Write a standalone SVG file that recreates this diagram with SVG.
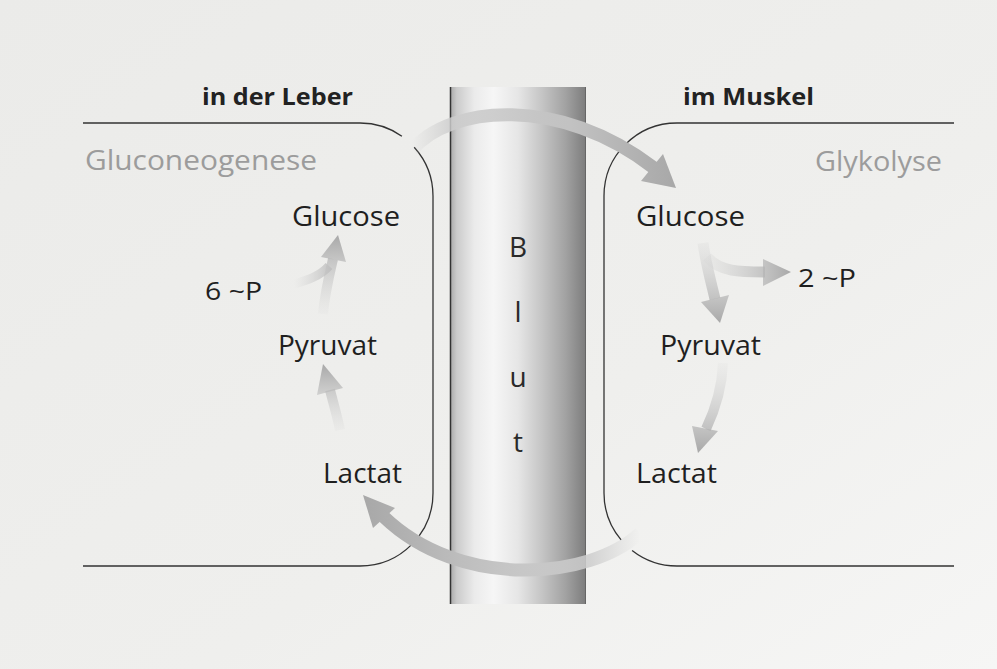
<svg xmlns="http://www.w3.org/2000/svg" width="997" height="669" viewBox="0 0 997 669">
  <defs>
    <linearGradient id="paper" x1="0" y1="0" x2="1" y2="1">
      <stop offset="0" stop-color="#ebebe9"/>
      <stop offset="0.6" stop-color="#efefed"/>
      <stop offset="1" stop-color="#f6f6f5"/>
    </linearGradient>
    <linearGradient id="vessel" gradientUnits="userSpaceOnUse" x1="450" y1="0" x2="586" y2="0">
      <stop offset="0" stop-color="#a8a8a8"/>
      <stop offset="0.05" stop-color="#cbcbcb"/>
      <stop offset="0.18" stop-color="#ebebeb"/>
      <stop offset="0.32" stop-color="#f6f6f6"/>
      <stop offset="0.5" stop-color="#e6e6e6"/>
      <stop offset="0.68" stop-color="#c4c4c4"/>
      <stop offset="0.85" stop-color="#a2a2a2"/>
      <stop offset="1" stop-color="#7c7c7c"/>
    </linearGradient>
    <linearGradient id="gTop" gradientUnits="userSpaceOnUse" x1="412" y1="0" x2="676" y2="0">
      <stop offset="0" stop-color="#d0d0d0" stop-opacity="0"/>
      <stop offset="0.15" stop-color="#cdcdcd" stop-opacity="0.85"/>
      <stop offset="0.6" stop-color="#c2c2c2"/>
      <stop offset="1" stop-color="#a8a8a8"/>
    </linearGradient>
    <linearGradient id="gBot" gradientUnits="userSpaceOnUse" x1="640" y1="0" x2="364" y2="0">
      <stop offset="0" stop-color="#d0d0d0" stop-opacity="0"/>
      <stop offset="0.18" stop-color="#cdcdcd" stop-opacity="0.85"/>
      <stop offset="0.6" stop-color="#c0c0c0"/>
      <stop offset="1" stop-color="#a8a8a8"/>
    </linearGradient>
    <linearGradient id="gL1" gradientUnits="userSpaceOnUse" x1="0" y1="314" x2="0" y2="236">
      <stop offset="0" stop-color="#d2d2d2" stop-opacity="0.1"/>
      <stop offset="1" stop-color="#a9a9a9"/>
    </linearGradient>
    <linearGradient id="gL1b" gradientUnits="userSpaceOnUse" x1="294" y1="0" x2="334" y2="0">
      <stop offset="0" stop-color="#d2d2d2" stop-opacity="0"/>
      <stop offset="1" stop-color="#bdbdbd"/>
    </linearGradient>
    <linearGradient id="gL2" gradientUnits="userSpaceOnUse" x1="0" y1="432" x2="0" y2="365">
      <stop offset="0" stop-color="#d2d2d2" stop-opacity="0.1"/>
      <stop offset="1" stop-color="#a9a9a9"/>
    </linearGradient>
    <linearGradient id="gR1" gradientUnits="userSpaceOnUse" x1="0" y1="242" x2="0" y2="322">
      <stop offset="0" stop-color="#d2d2d2" stop-opacity="0.2"/>
      <stop offset="1" stop-color="#a9a9a9"/>
    </linearGradient>
    <linearGradient id="gR1b" gradientUnits="userSpaceOnUse" x1="706" y1="0" x2="790" y2="0">
      <stop offset="0" stop-color="#d2d2d2" stop-opacity="0.2"/>
      <stop offset="1" stop-color="#a9a9a9"/>
    </linearGradient>
    <linearGradient id="gR2" gradientUnits="userSpaceOnUse" x1="0" y1="362" x2="0" y2="452">
      <stop offset="0" stop-color="#d2d2d2" stop-opacity="0.1"/>
      <stop offset="1" stop-color="#a9a9a9"/>
    </linearGradient>
  </defs>
  <style>
    text { font-family: "Open Sans", "Noto Sans", "Liberation Sans", sans-serif; }
    .head { font-size: 23px; font-weight: bold; fill: #222; }
    .proc { font-size: 27px; fill: #9c9c9c; }
    .lbl { font-size: 28px; fill: #1f1f1f; }
    .small { font-size: 25px; fill: #1f1f1f; }
    .blut { font-size: 28px; fill: #2a2a2a; text-anchor: middle; }
    .wall { fill: none; stroke: #333; stroke-width: 1.3; }
    .shaft { fill: none; stroke-linecap: butt; }
  </style>

  <rect x="0" y="0" width="997" height="669" fill="url(#paper)"/>

  <g id="blood-vessel">
    <rect x="450" y="87" width="136" height="517" fill="url(#vessel)"/>
    <line x1="450.5" y1="87" x2="450.5" y2="604" stroke="#333" stroke-width="1.5"/>
    <line x1="585.5" y1="87" x2="585.5" y2="604" stroke="#666" stroke-width="1"/>
    <text class="blut" x="518" y="257">B</text>
    <text class="blut" x="518" y="322">l</text>
    <text class="blut" x="518" y="387">u</text>
    <text class="blut" x="518" y="452">t</text>
  </g>

  <g id="leber">
    <path class="wall" d="M 83 123 H 360 A 73 73 0 0 1 401.9 136.2 M 414.2 147.2 A 73 73 0 0 1 433 196 V 493 A 73 73 0 0 1 360 566 H 83"/>
    <text class="head" x="202" y="105" textLength="151" lengthAdjust="spacingAndGlyphs">in der Leber</text>
    <text class="proc" x="85" y="170" textLength="232" lengthAdjust="spacingAndGlyphs">Gluconeogenese</text>
  </g>

  <g id="muskel">
    <path class="wall" d="M 954 123 H 677 A 73 73 0 0 0 604 196 V 493 A 73 73 0 0 0 621.1 539.9 M 632.1 550.5 A 73 73 0 0 0 677 566 H 954"/>
    <text class="head" x="683" y="105" textLength="131" lengthAdjust="spacingAndGlyphs">im Muskel</text>
    <text class="proc" x="815" y="171" textLength="127" lengthAdjust="spacingAndGlyphs">Glykolyse</text>
  </g>

  <g id="leber-glucose"><text class="lbl" x="292" y="226" textLength="108" lengthAdjust="spacingAndGlyphs">Glucose</text></g>
  <g id="leber-6p"><text class="small" x="205" y="300" textLength="57" lengthAdjust="spacingAndGlyphs">6 ~P</text></g>
  <g id="leber-pyruvat"><text class="lbl" x="278" y="355" textLength="99" lengthAdjust="spacingAndGlyphs">Pyruvat</text></g>
  <g id="leber-lactat"><text class="lbl" x="323" y="483" textLength="79" lengthAdjust="spacingAndGlyphs">Lactat</text></g>

  <g id="muskel-glucose"><text class="lbl" x="636" y="226" textLength="109" lengthAdjust="spacingAndGlyphs">Glucose</text></g>
  <g id="muskel-2p"><text class="small" x="798" y="287" textLength="58" lengthAdjust="spacingAndGlyphs">2 ~P</text></g>
  <g id="muskel-pyruvat"><text class="lbl" x="660" y="355" textLength="101" lengthAdjust="spacingAndGlyphs">Pyruvat</text></g>
  <g id="muskel-lactat"><text class="lbl" x="636" y="483" textLength="81" lengthAdjust="spacingAndGlyphs">Lactat</text></g>

  <g id="connectors">
    <g id="blood-to-muscle">
      <path class="shaft" d="M 412 150 C 450 105, 560 95, 654 168" stroke="url(#gTop)" stroke-width="13"/>
      <polygon points="676,188 641,181 663,154" fill="url(#gTop)"/>
    </g>
    <g id="muscle-to-liver">
      <path class="shaft" d="M 640 533 C 590 580, 460 590, 384 517" stroke="url(#gBot)" stroke-width="13"/>
      <polygon points="363,495 373,528 395,508" fill="url(#gBot)"/>
    </g>
    <g id="leber-pyr-glc">
      <path class="shaft" d="M 323 314 C 325 292, 329 276, 333 259" stroke="url(#gL1)" stroke-width="10"/>
      <path class="shaft" d="M 294 284 C 308 280, 320 276, 329 266" stroke="url(#gL1b)" stroke-width="9"/>
      <polygon points="338,235 321,257 346,262" fill="url(#gL1)"/>
    </g>
    <g id="leber-lac-pyr">
      <path class="shaft" d="M 340 430 C 337 415, 333 402, 330 390" stroke="url(#gL2)" stroke-width="10"/>
      <polygon points="323,364 317,395 343,388" fill="url(#gL2)"/>
    </g>
    <g id="muskel-glc-pyr">
      <path class="shaft" d="M 703 243 C 706 264, 711 282, 715 299" stroke="url(#gR1)" stroke-width="11"/>
      <path class="shaft" d="M 707 257 C 720 272, 740 272, 765 272" stroke="url(#gR1b)" stroke-width="11"/>
      <polygon points="791,272 763,259 763,286" fill="url(#gR1b)"/>
      <polygon points="720,323 701,302 729,295" fill="url(#gR1)"/>
    </g>
    <g id="muskel-pyr-lac">
      <path class="shaft" d="M 723 363 C 722 390, 715 410, 706 429" stroke="url(#gR2)" stroke-width="10"/>
      <polygon points="698,453 692,426 718,431" fill="url(#gR2)"/>
    </g>
  </g>
</svg>
